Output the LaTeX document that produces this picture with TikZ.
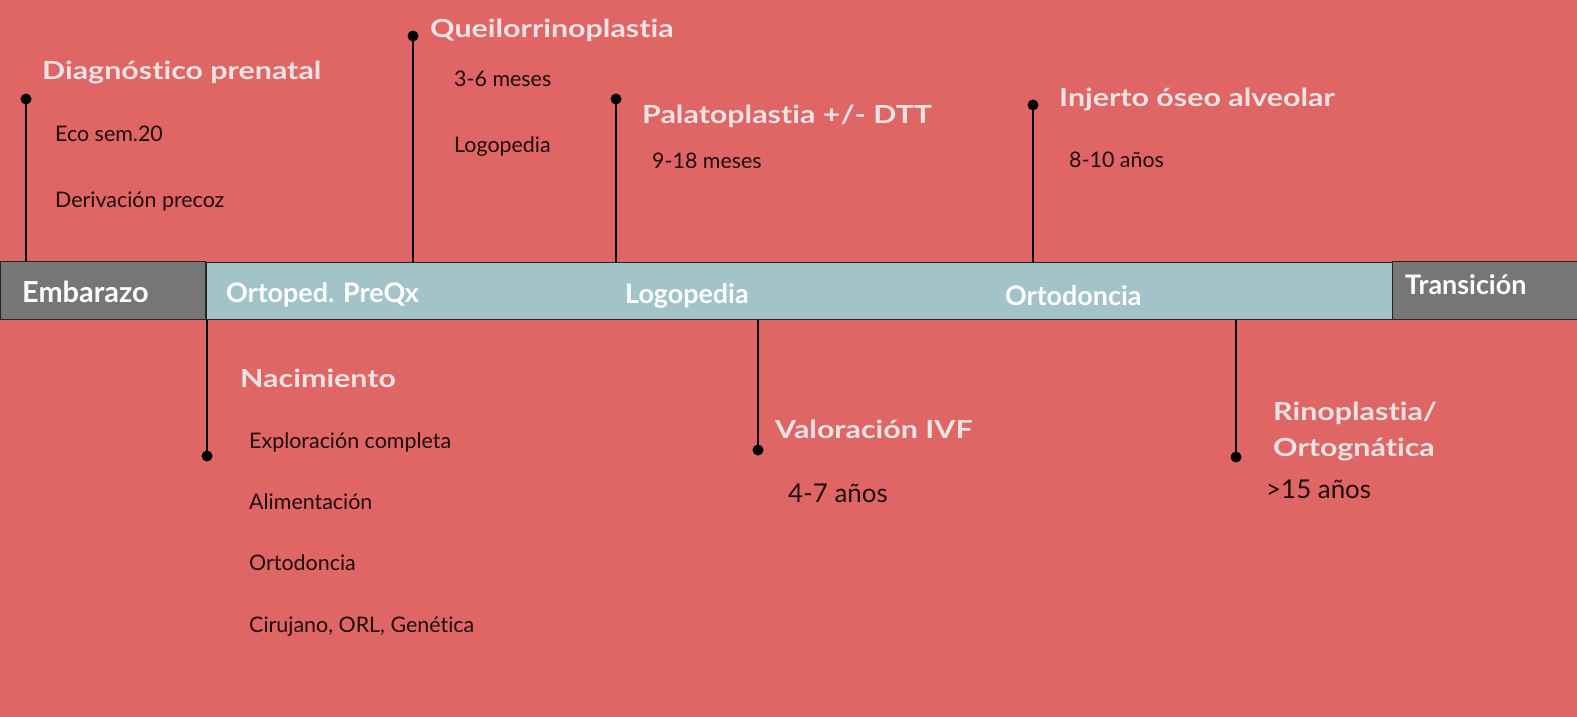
\documentclass[tikz,border=0pt]{standalone}
\usepackage{fontspec}
\setmainfont{Lato}[Ligatures=NoCommon]
\newfontfamily\ttlfont{Lato}[FakeStretch=1.22, Ligatures=NoCommon]
\definecolor{bgred}{HTML}{E06666}
\definecolor{barblue}{HTML}{A2C4C9}
\definecolor{bargray}{HTML}{767676}
\definecolor{titlecol}{HTML}{E9E3E3}
\definecolor{bodycol}{HTML}{1E0C0C}
\begin{document}
\begin{tikzpicture}[x=1bp,y=-1bp,
  seg/.style={draw=black!85, line width=1.3bp, inner sep=0, anchor=north west},
  graybox/.style={seg, fill=bargray, minimum height=58bp},
  bluebox/.style={seg, fill=barblue, minimum height=57bp},
  barlabel/.style={anchor=base west, inner sep=0, text=white, font=\fontsize{27}{30}\selectfont\bfseries},
  ttl/.style={anchor=base west, inner sep=0, text=titlecol, font=\ttlfont\fontsize{25}{30}\selectfont\bfseries},
  bodytxt/.style={anchor=base west, inner sep=0, text=bodycol, font=\fontsize{21.5}{24}\selectfont},
  bigtxt/.style={anchor=base west, inner sep=0, text=bodycol, font=\fontsize{26}{30}\selectfont},
  dot/.style={circle, fill=black, inner sep=0, minimum size=11bp},
  conn/.style={draw=black, line width=2bp}
]
\fill[bgred] (0,0) rectangle (1577,717);
\useasboundingbox (0,0) rectangle (1577,717);

% bar
\node[graybox, minimum width=205bp] (emb) at (0,261) {};
\node[bluebox, minimum width=1186bp] (bar) at (206,262) {};
\node[graybox, minimum width=192bp] (tra) at (1392,261) {};

\node[barlabel, font=\fontsize{29}{32}\selectfont\bfseries] (lemb) at (22,302) {Embarazo};
\node[barlabel] (lort) at (226,302) {Ortoped. PreQx};
\node[barlabel] (llog) at (625,303) {Logopedia};
\node[barlabel] (lodo) at (1005,305) {Ortodoncia};
\node[barlabel] (ltra) at (1405,294) {Transición};

% dots
\node[dot] (d1) at (26,99) {};
\node[dot] (d2) at (413,36) {};
\node[dot] (d3) at (616,99) {};
\node[dot] (d4) at (1033,105) {};
\node[dot] (d5) at (207,456) {};
\node[dot] (d6) at (758,450) {};
\node[dot] (d7) at (1236,457) {};

\draw[conn] (d1.center) -- (d1 |- emb.north);
\draw[conn] (d2.center) -- (d2 |- bar.north);
\draw[conn] (d3.center) -- (d3 |- bar.north);
\draw[conn] (d4.center) -- (d4 |- bar.north);
\draw[conn] (d5.center) -- (d5 |- bar.south);
\draw[conn] (d6.center) -- (d6 |- bar.south);
\draw[conn] (d7.center) -- (d7 |- bar.south);

% top texts
\node[ttl] (t1) at (42,80) {Diagnóstico prenatal};
\node[bodytxt] (t1a) at (55,142) {Eco sem.20};
\node[bodytxt] (t1b) at (55,207) {Derivación precoz};

\node[ttl] (t2) at (430,38) {Queilorrinoplastia};
\node[bodytxt] (t2a) at (454,87) {3-6 meses};
\node[bodytxt] (t2b) at (454,153) {Logopedia};

\node[ttl] (t3) at (642,124) {Palatoplastia +/- DTT};
\node[bodytxt] (t3a) at (652,168) {9-18 meses};

\node[ttl] (t4) at (1059,107) {Injerto óseo alveolar};
\node[bodytxt] (t4a) at (1069,167) {8-10 años};

% bottom texts
\node[ttl] (t5) at (240,387) {Nacimiento};
\node[bodytxt] (t5a) at (249,448) {Exploración completa};
\node[bodytxt] (t5b) at (249,509) {Alimentación};
\node[bodytxt] (t5c) at (249,570) {Ortodoncia};
\node[bodytxt] (t5d) at (249,632) {Cirujano, ORL, Genética};

\node[ttl] (t6) at (775,438) {Valoración IVF};
\node[bigtxt] (t6a) at (788,502) {4-7 años};

\node[ttl] (t7) at (1273,420) {Rinoplastia/};
\node[ttl] (t7b) at (1273,456) {Ortognática};
\node[bigtxt] (t7a) at (1266,498) {>15 años};
\end{tikzpicture}
\end{document}
